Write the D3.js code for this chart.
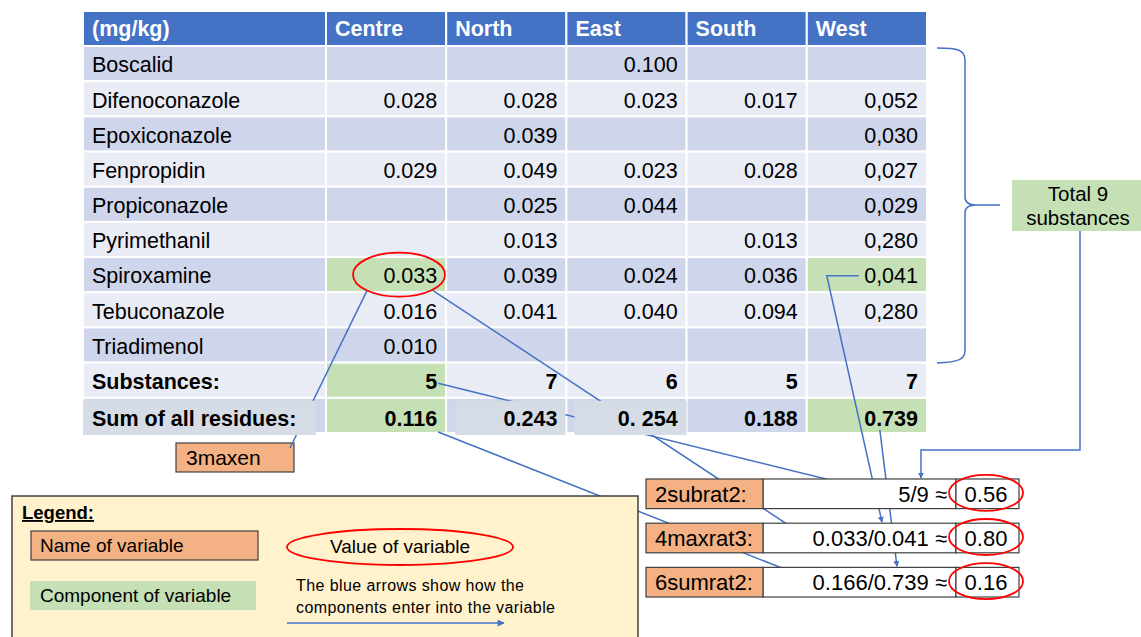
<!DOCTYPE html>
<html>
<head>
<meta charset="utf-8">
<title>Residues by region</title>
<style>
body { margin: 0; background: #fff; }
text { font-family: "Liberation Sans", Arial, sans-serif; fill: #000; }
</style>
</head>
<body>
<script src="https://cdn.jsdelivr.net/npm/d3@7"></script>
<script>

// table data (values kept as printed, incl. the commas in West)
var regions = ["Centre", "North", "East", "South", "West"];
var substances = ["Boscalid", "Difenoconazole", "Epoxiconazole", "Fenpropidin", "Propiconazole",
                  "Pyrimethanil", "Spiroxamine", "Tebuconazole", "Triadimenol"];
var centre = ["", "0.028", "", "0.029", "", "", "0.033", "0.016", "0.010"];
var north  = ["", "0.028", "0.039", "0.049", "0.025", "0.013", "0.039", "0.041", ""];
var east   = ["0.100", "0.023", "", "0.023", "0.044", "", "0.024", "0.040", ""];
var south  = ["", "0.017", "", "0.028", "", "0.013", "0.036", "0.094", ""];
var west   = ["", "0,052", "0,030", "0,027", "0,029", "0,280", "0,041", "0,280", ""];
var substanceCounts = ["5", "7", "6", "5", "7"];
var residueSums = ["0.116", "0.243", "0. 254", "0.188", "0.739"];

// derived variables
var variableNames = ["2subrat2:", "4maxrat3:", "6sumrat2:"];
var formulas = ["5/9 \u2248", "0.033/0.041 \u2248", "0.166/0.739 \u2248"];
var variableValues = ["0.56", "0.80", "0.16"];

var width = 1141, height = 637;
var blue = "#4472C4", green = "#C5E0B4", orange = "#F4B183", dark = "#404040";

var svg = d3.select("body").append("svg")
    .attr("width", width)
    .attr("height", height);

var defs = svg.append("defs");
defs.append("marker")
    .attr("id", "arrow")
    .attr("viewBox", "0 0 10 10")
    .attr("refX", 9).attr("refY", 5)
    .attr("markerWidth", 6).attr("markerHeight", 6)
    .attr("markerUnits", "userSpaceOnUse")
    .attr("orient", "auto")
  .append("path")
    .attr("d", "M0,0 L10,5 L0,10 z")
    .attr("fill", blue);
// bigger head for the legend sample
defs.append("marker")
    .attr("id", "arrowBig")
    .attr("viewBox", "0 0 10 10")
    .attr("refX", 9).attr("refY", 5)
    .attr("markerWidth", 9).attr("markerHeight", 7)
    .attr("markerUnits", "userSpaceOnUse")
    .attr("orient", "auto")
  .append("path")
    .attr("d", "M0,0 L10,5 L0,10 z")
    .attr("fill", blue);

var columns = [centre, north, east, south, west];
var rowLabels = substances.concat(["Substances:", "Sum of all residues:"]);

var tableLeft = 83;
var x = d3.scaleBand().domain(regions).range([326, 927]);
var y = d3.scaleBand().domain(rowLabels).range([46, 433]);
var headerTop = 11;

var fontSize = 21.5;
var base = 8.8;   // baseline offset from row centre

// which cells are components (green)
var greenCells = {"Spiroxamine|Centre": 1, "Spiroxamine|West": 1,
                  "Substances:|Centre": 1, "Sum of all residues:|Centre": 1,
                  "Sum of all residues:|West": 1};

var table = svg.append("g");

// header
table.append("rect")
    .attr("x", tableLeft).attr("y", headerTop)
    .attr("width", x.range()[0] - tableLeft).attr("height", y.range()[0] - headerTop)
    .attr("fill", blue).attr("stroke", "#fff").attr("stroke-width", 2);
table.selectAll(".hcell").data(regions).enter().append("rect")
    .attr("x", function(d) { return x(d); })
    .attr("y", headerTop)
    .attr("width", x.bandwidth())
    .attr("height", y.range()[0] - headerTop)
    .attr("fill", blue).attr("stroke", "#fff").attr("stroke-width", 2);
table.append("text")
    .attr("x", tableLeft + 9).attr("y", headerTop + 25)
    .style("font-size", fontSize + "px").style("font-weight", "bold")
    .style("fill", "#fff")
    .text("(mg/kg)");
table.selectAll(".htext").data(regions).enter().append("text")
    .attr("x", function(d) { return x(d) + 9; })
    .attr("y", headerTop + 25)
    .style("font-size", fontSize + "px").style("font-weight", "bold")
    .style("fill", "#fff")
    .text(function(d) { return d; });

// body rows
function rowFill(i) { return i % 2 == 0 ? "#CFD5EA" : "#E9EBF5"; }

var rows = table.selectAll(".row").data(rowLabels).enter().append("g");

rows.append("rect")
    .attr("x", tableLeft)
    .attr("y", function(d) { return y(d); })
    .attr("width", x.range()[0] - tableLeft)
    .attr("height", y.bandwidth())
    .attr("fill", function(d, i) { return rowFill(i); })
    .attr("stroke", "#fff").attr("stroke-width", 2);

rows.each(function(label, i) {
  var g = d3.select(this);
  regions.forEach(function(r, j) {
    var key = label + "|" + r;
    g.append("rect")
        .attr("x", x(r)).attr("y", y(label))
        .attr("width", x.bandwidth()).attr("height", y.bandwidth())
        .attr("fill", greenCells[key] ? green : rowFill(i))
        .attr("stroke", "#fff").attr("stroke-width", 2);
  });
});

// labels and values (sum row text comes later, over its overlay boxes)
rows.filter(function(d) { return d != "Sum of all residues:"; })
  .append("text")
    .attr("x", tableLeft + 9)
    .attr("y", function(d) { return y(d) + y.bandwidth() / 2 + base; })
    .style("font-size", fontSize + "px")
    .style("font-weight", function(d) { return d == "Substances:" ? "bold" : null; })
    .text(function(d) { return d; });

substances.forEach(function(s, i) {
  regions.forEach(function(r, j) {
    table.append("text")
        .attr("x", x(r) + x.bandwidth() - 9)
        .attr("y", y(s) + y.bandwidth() / 2 + base)
        .attr("text-anchor", "end")
        .style("font-size", fontSize + "px")
        .text(columns[j][i]);
  });
});
regions.forEach(function(r, j) {
  table.append("text")
      .attr("x", x(r) + x.bandwidth() - 9)
      .attr("y", y("Substances:") + y.bandwidth() / 2 + base)
      .attr("text-anchor", "end")
      .style("font-size", fontSize + "px").style("font-weight", "bold")
      .text(substanceCounts[j]);
});

// "3maxen" name box (drawn under its line)
var maxen = svg.append("g");
maxen.append("rect")
    .attr("x", 176).attr("y", 443).attr("width", 118).attr("height", 29)
    .attr("fill", orange).attr("stroke", dark).attr("stroke-width", 1.2);
maxen.append("text")
    .attr("x", 186).attr("y", 465)
    .style("font-size", "21px")
    .text("3maxen");

// ellipse on Centre Spiroxamine
var spiroY = y("Spiroxamine") + y.bandwidth() / 2;
var ell = {cx: x("Centre") + 73, cy: spiroY, rx: 46, ry: 22};

// blue connector lines
var lines = svg.append("g")
    .attr("fill", "none")
    .attr("stroke", blue)
    .attr("stroke-width", 1.5);

var subsY = y("Substances:") + y.bandwidth() / 2;
var sumBottom = y.range()[1];
var vy = d3.scaleBand().domain(variableNames).range([479, 597]).paddingInner(0.33);
var varTop = function(n) { return vy(n); };
var varMid = function(n) { return vy(n) + vy.bandwidth() / 2; };

var line = d3.line();

// 0.033 -> 3maxen
lines.append("path")
    .attr("d", line([[ell.cx - 32, ell.cy + 16], [290, 448]]));
// 0.033 -> 4maxrat3 formula
lines.append("path")
    .attr("d", line([[ell.cx + 34, ell.cy + 16], [808, varMid("4maxrat3:")]]))
    .attr("marker-end", "url(#arrow)");
// 5 -> 2subrat2 formula
lines.append("path")
    .attr("d", line([[x("Centre") + x.bandwidth() - 8, subsY + 3], [890, varMid("2subrat2:") + 1]]))
    .attr("marker-end", "url(#arrow)");
// 0.116 -> 6sumrat2 formula
lines.append("path")
    .attr("d", line([[x("Centre") + x.bandwidth() - 8, sumBottom - 1], [805, varMid("6sumrat2:") - 5]]))
    .attr("marker-end", "url(#arrow)");
// 0,041 -> 4maxrat3
lines.append("path")
    .attr("d", line([[x("West") + 52, spiroY + 1], [x("West") + 20, spiroY + 1], [882, varTop("4maxrat3:") - 1]]))
    .attr("marker-end", "url(#arrow)");
// 0.739 -> 6sumrat2
lines.append("path")
    .attr("d", line([[x("West") + 73, sumBottom - 3], [897, varTop("6sumrat2:") - 1]]))
    .attr("marker-end", "url(#arrow)");
// Total 9 -> 2subrat2
lines.append("path")
    .attr("d", line([[1080, 231], [1080, 450], [921, 450], [921, varTop("2subrat2:") - 1]]))
    .attr("marker-end", "url(#arrow)");

// brace
lines.append("path")
    .attr("d", "M937,48 C958,48 965,50 965,60 L965,197 Q965,205 976,205 L1000,205 L976,205 Q965,205 965,213 L965,350 C965,360 958,362 937,363");

// Sum row: grey overlay boxes (they sit on top of the lines)
var sumRow = "Sum of all residues:";
var overlays = [[tableLeft, 316], [x("North") + 9, x("North") + x.bandwidth() - 1], [x("East") + 8, x("East") + x.bandwidth()]];
svg.append("g").selectAll("rect").data(overlays).enter().append("rect")
    .attr("x", function(d) { return d[0]; })
    .attr("y", y(sumRow) + 3)
    .attr("width", function(d) { return d[1] - d[0]; })
    .attr("height", y.bandwidth() - 1)
    .attr("fill", "#D6DCE5");

svg.append("text")
    .attr("x", tableLeft + 9)
    .attr("y", y(sumRow) + y.bandwidth() / 2 + base + 1.5)
    .style("font-size", fontSize + "px").style("font-weight", "bold")
    .text(sumRow);
regions.forEach(function(r, j) {
  svg.append("text")
      .attr("x", x(r) + x.bandwidth() - 9)
      .attr("y", y(sumRow) + y.bandwidth() / 2 + base + 1.5)
      .attr("text-anchor", "end")
      .style("font-size", fontSize + "px").style("font-weight", "bold")
      .text(residueSums[j]);
});

svg.append("ellipse")
    .attr("cx", ell.cx).attr("cy", ell.cy).attr("rx", ell.rx).attr("ry", ell.ry)
    .attr("fill", "none").attr("stroke", "#FF0000").attr("stroke-width", 1.8);

// Total 9 substances box
var total = svg.append("g");
total.append("rect")
    .attr("x", 1012).attr("y", 180).attr("width", 129).attr("height", 51)
    .attr("fill", green);
total.append("text")
    .attr("x", 1078).attr("y", 201).attr("text-anchor", "middle")
    .style("font-size", "20.5px").text("Total 9");
total.append("text")
    .attr("x", 1078).attr("y", 225).attr("text-anchor", "middle")
    .style("font-size", "20.5px").text("substances");

// derived variable rows
var vars = svg.append("g").selectAll("g").data(variableNames).enter().append("g");
vars.append("rect")
    .attr("x", 763).attr("y", function(d) { return vy(d); })
    .attr("width", 193).attr("height", vy.bandwidth())
    .attr("fill", "#fff").attr("stroke", dark).attr("stroke-width", 1.2);
vars.append("rect")
    .attr("x", 956).attr("y", function(d) { return vy(d); })
    .attr("width", 63).attr("height", vy.bandwidth())
    .attr("fill", "#fff").attr("stroke", dark).attr("stroke-width", 1.2);
vars.append("rect")
    .attr("x", 646).attr("y", function(d) { return vy(d); })
    .attr("width", 117).attr("height", vy.bandwidth())
    .attr("fill", orange).attr("stroke", dark).attr("stroke-width", 1.2);
vars.append("text")
    .attr("x", 655).attr("y", function(d) { return vy(d) + vy.bandwidth() / 2 + 8; })
    .style("font-size", "22px")
    .text(function(d) { return d; });
vars.append("text")
    .attr("x", 947).attr("y", function(d) { return vy(d) + vy.bandwidth() / 2 + 8; })
    .attr("text-anchor", "end")
    .style("font-size", "22px")
    .text(function(d, i) { return formulas[i]; });
vars.append("text")
    .attr("x", 986).attr("y", function(d) { return vy(d) + vy.bandwidth() / 2 + 8; })
    .attr("text-anchor", "middle")
    .style("font-size", "22px")
    .text(function(d, i) { return variableValues[i]; });
vars.append("ellipse")
    .attr("cx", 986).attr("cy", function(d) { return vy(d) + vy.bandwidth() / 2 - 1; })
    .attr("rx", 37).attr("ry", 18)
    .attr("fill", "none").attr("stroke", "#FF0000").attr("stroke-width", 1.8);

// legend
var legend = svg.append("g");
legend.append("rect")
    .attr("x", 12).attr("y", 496).attr("width", 626).attr("height", 160)
    .attr("fill", "#FFF2CC").attr("stroke", dark).attr("stroke-width", 1.5);
legend.append("text")
    .attr("x", 22).attr("y", 519)
    .style("font-size", "18.5px").style("font-weight", "bold")
    .style("text-decoration", "underline")
    .text("Legend:");
legend.append("rect")
    .attr("x", 31).attr("y", 531).attr("width", 227).attr("height", 29)
    .attr("fill", orange).attr("stroke", dark).attr("stroke-width", 1.2);
legend.append("text")
    .attr("x", 40).attr("y", 552).style("font-size", "19px")
    .text("Name of variable");
legend.append("ellipse")
    .attr("cx", 400).attr("cy", 547).attr("rx", 113).attr("ry", 18)
    .attr("fill", "none").attr("stroke", "#FF0000").attr("stroke-width", 1.8);
legend.append("text")
    .attr("x", 400).attr("y", 553).attr("text-anchor", "middle")
    .style("font-size", "19px")
    .text("Value of variable");
legend.append("rect")
    .attr("x", 30).attr("y", 581).attr("width", 226).attr("height", 29)
    .attr("fill", green);
legend.append("text")
    .attr("x", 40).attr("y", 602).style("font-size", "19px")
    .text("Component of variable");
legend.append("text")
    .attr("x", 296).attr("y", 591).style("font-size", "16px")
    .attr("textLength", 228)
    .text("The blue arrows show how the");
legend.append("text")
    .attr("x", 296).attr("y", 613).style("font-size", "16px")
    .attr("textLength", 259)
    .text("components enter into the variable");
legend.append("path")
    .attr("d", line([[287, 623], [504, 623]]))
    .attr("fill", "none").attr("stroke", blue).attr("stroke-width", 1.5)
    .attr("marker-end", "url(#arrowBig)");

</script>
</body>
</html>
